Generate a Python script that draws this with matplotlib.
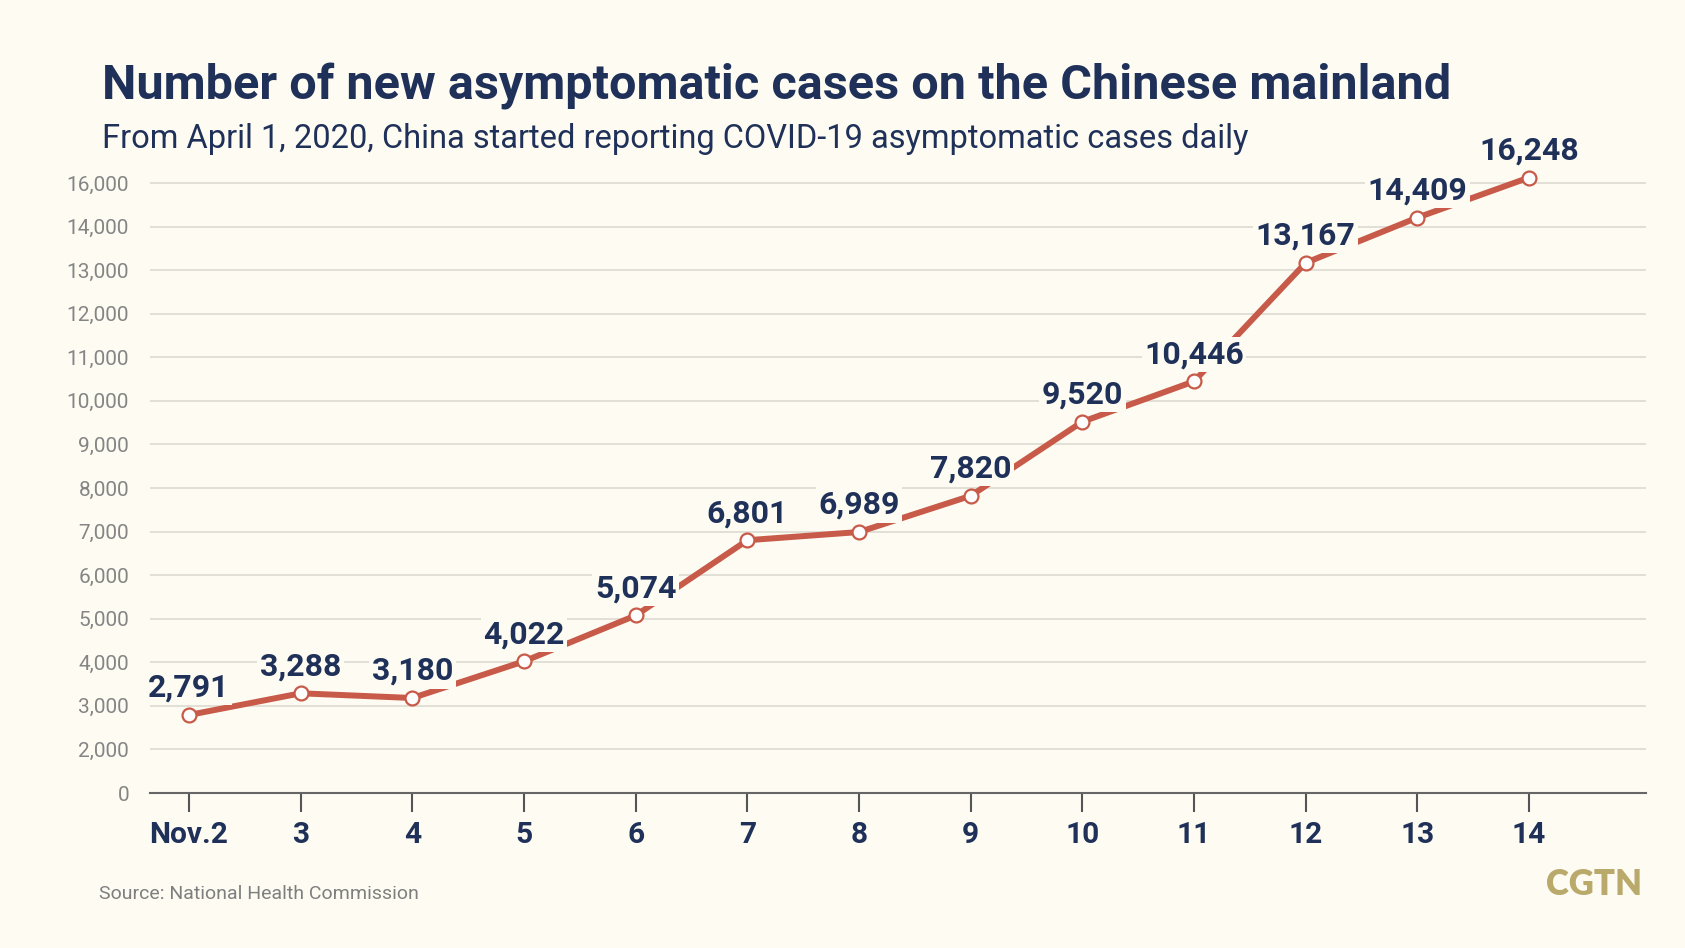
import matplotlib
matplotlib.use("Agg")
import matplotlib.pyplot as plt
import numpy as np

# data
days = ['Nov.2', '3', '4', '5', '6', '7', '8', '9', '10', '11', '12', '13', '14']
cases = [2791, 3288, 3180, 4022, 5074, 6801, 6989, 7820, 9520, 10446, 13167, 14409, 16248]
ytick_vals = [0, 2000, 3000, 4000, 5000, 6000, 7000, 8000, 9000, 10000,
              11000, 12000, 13000, 14000, 16000]

BG = '#FDFBF2'
NAVY = '#1F3159'
RED = '#C75A48'
GRID = '#DAD7CF'
GREY = '#858585'
GOLD = '#B9A96B'

# the original axis is evenly spaced between its labels (0, 2k, 3k ... 14k, 16k)
scale_vals = [-2000] + ytick_vals + [20000]
scale_idx = [-1] + list(range(len(ytick_vals))) + [16]

def fwd(v):
    return np.interp(v, scale_vals, scale_idx)

def inv(p):
    return np.interp(p, scale_idx, scale_vals)

plt.rcParams['font.family'] = ['Roboto', 'DejaVu Sans']

fig = plt.figure(figsize=(16.85, 9.48), dpi=100, facecolor=BG)
ax = fig.add_axes([0.089, 0.1635, 0.888, 0.6665], facecolor=BG)
ax.set_yscale('function', functions=(fwd, inv))

x = np.arange(len(days))
ax.plot(x, cases, color=RED, lw=4.3, zorder=3, solid_capstyle='round',
        marker='o', markersize=10, markerfacecolor='white',
        markeredgecolor=RED, markeredgewidth=1.6)

for xi, v in zip(x, cases):
    ax.annotate(f'{v:,}', (xi, v), xytext=(0, 13), textcoords='offset points',
                ha='center', va='baseline', fontsize=23, fontweight='bold',
                color=NAVY, zorder=4,
                bbox=dict(boxstyle='square,pad=0.08', fc=BG, ec='none'))

ax.set_xlim(-0.35, 13.05)
ax.set_ylim(0, 17000)
ax.set_xticks(x)
ax.set_xticklabels(days, fontsize=21.5, fontweight='bold', color=NAVY)
ax.set_yticks(ytick_vals)
ax.set_yticklabels([f'{v:,}' for v in ytick_vals], fontsize=15, color=GREY)
ax.yaxis.set_minor_locator(matplotlib.ticker.NullLocator())
ax.tick_params(axis='x', length=14, width=1.5, color='#555555', pad=6)
ax.tick_params(axis='y', length=0, pad=15)
ax.grid(axis='y', color=GRID, lw=1.1)
ax.set_axisbelow(True)
for s in ['top', 'right', 'left']:
    ax.spines[s].set_visible(False)
ax.spines['bottom'].set_color('#666666')
ax.spines['bottom'].set_linewidth(1.5)

fig.text(102 / 1685, 1 - 100 / 948, 'Number of new asymptomatic cases on the Chinese mainland',
         fontsize=35, fontweight='bold', color=NAVY, va='baseline')
fig.text(102 / 1685, 1 - 148 / 948,
         'From April 1, 2020, China started reporting COVID-19 asymptomatic cases daily',
         fontsize=23.5, color=NAVY, va='baseline')
fig.text(99 / 1685, 1 - 899 / 948, 'Source: National Health Commission',
         fontsize=14, color='#7F7F7F', va='baseline')
fig.text(1642 / 1685, 1 - 895 / 948, 'CGTN', fontsize=25, fontweight='heavy',
         color=GOLD, va='baseline', ha='right', family='Lato')

fig.savefig('out.png', dpi=100, facecolor=BG)
